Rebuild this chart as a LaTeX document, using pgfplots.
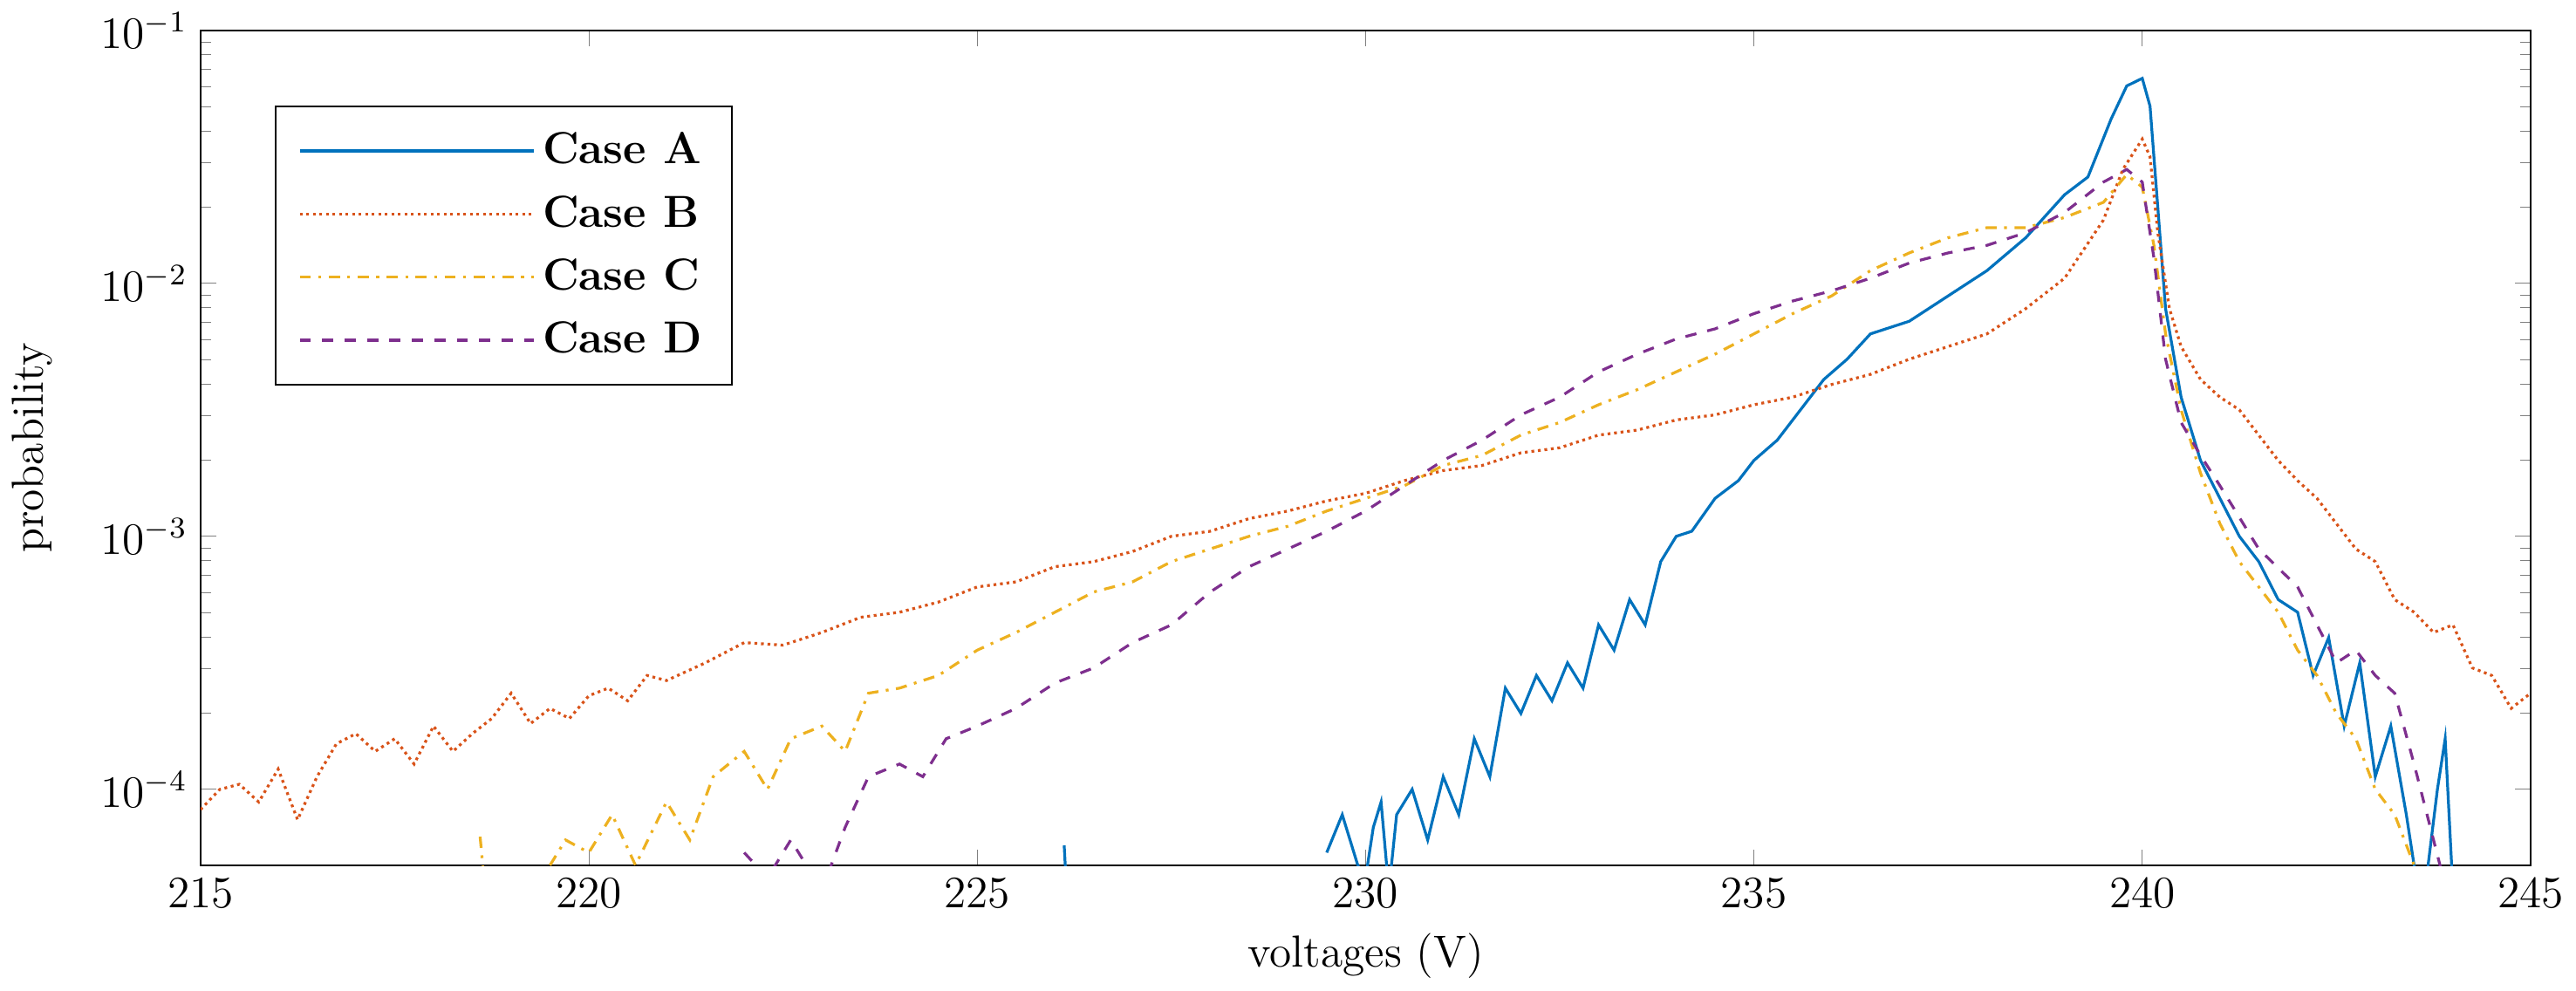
\documentclass[border=0pt]{standalone}
\usepackage{pgfplots}
\pgfplotsset{compat=1.18}
\definecolor{mA}{RGB}{0,114,189}
\definecolor{mB}{RGB}{217,83,25}
\definecolor{mC}{RGB}{237,177,32}
\definecolor{mD}{RGB}{126,47,142}
\begin{document}
\begin{tikzpicture}
\begin{axis}[
 scale only axis, width=21.9cm, height=7.85cm,
 xmin=215, xmax=245, ymin=5e-5, ymax=0.1, ymode=log,
 xtick={215,220,...,245}, ytick={1e-4,1e-3,1e-2,1e-1},
 tick align=inside, font=\large,
 xlabel={voltages (V)}, ylabel={probability},
 ylabel style={yshift=6pt},
 every axis plot/.append style={line width=0.75pt},
 legend style={at={(0.032,0.91)},anchor=north west,font=\large\bfseries,draw=black,inner xsep=6pt,inner ysep=5pt, row sep=3pt},
 legend image code/.code={\draw[#1] (0cm,0cm)--(2.2cm,0cm);},
 legend cell align=left,
]
\addplot[mA,solid] table[x=x,y expr={10^(\thisrow{l})}] {
x l
229.5 -4.25
229.7 -4.1
229.9 -4.3
230.0 -4.35
230.1 -4.15
230.2 -4.05
230.3 -4.4
230.4 -4.1
230.6 -4.0
230.8 -4.2
231 -3.95
231.2 -4.1
231.4 -3.8
231.6 -3.95
231.8 -3.6
232 -3.7
232.2 -3.55
232.4 -3.65
232.6 -3.5
232.8 -3.6
233 -3.35
233.2 -3.45
233.4 -3.25
233.6 -3.35
233.8 -3.1
234 -3.0
234.2 -2.98
234.5 -2.85
234.8 -2.78
235 -2.7
235.3 -2.62
235.6 -2.5
235.9 -2.38
236.2 -2.3
236.5 -2.2
237 -2.15
237.5 -2.05
238 -1.95
238.5 -1.82
239 -1.65
239.3 -1.58
239.6 -1.35
239.8 -1.22
240 -1.19
240.1 -1.3
240.2 -1.7
240.3 -2.1
240.5 -2.45
240.75 -2.7
241 -2.85
241.25 -3.0
241.5 -3.1
241.75 -3.25
242 -3.3
242.2 -3.55
242.4 -3.4
242.6 -3.75
242.8 -3.5
243 -3.95
243.2 -3.75
243.4 -4.1
243.6 -4.5
243.8 -4.0
243.9 -3.8
244 -4.4
244.1 -4.6
};
\addlegendentry{Case A}
\addplot[mB,densely dotted] table[x=x,y expr={10^(\thisrow{l})}] {
x l
215 -4.08
215.25 -4.0
215.5 -3.98
215.75 -4.05
216 -3.92
216.25 -4.12
216.5 -3.95
216.75 -3.82
217 -3.78
217.25 -3.85
217.5 -3.8
217.75 -3.9
218 -3.75
218.25 -3.85
218.5 -3.78
218.75 -3.72
219 -3.62
219.25 -3.74
219.5 -3.68
219.75 -3.72
220 -3.63
220.25 -3.6
220.5 -3.65
220.75 -3.55
221 -3.57
221.5 -3.5
222 -3.42
222.5 -3.43
223 -3.38
223.5 -3.32
224 -3.3
224.5 -3.26
225 -3.2
225.5 -3.18
226 -3.12
226.5 -3.1
227 -3.06
227.5 -3.0
228 -2.98
228.5 -2.93
229 -2.9
229.5 -2.86
230 -2.83
230.5 -2.78
231 -2.74
231.5 -2.72
232 -2.67
232.5 -2.65
233 -2.6
233.5 -2.58
234 -2.54
234.5 -2.52
235 -2.48
235.5 -2.45
236 -2.4
236.5 -2.36
237 -2.3
237.5 -2.25
238 -2.2
238.5 -2.1
239 -1.98
239.5 -1.75
239.75 -1.55
240 -1.43
240.1 -1.5
240.2 -1.8
240.35 -2.1
240.5 -2.25
240.75 -2.38
241 -2.45
241.25 -2.5
241.5 -2.6
241.75 -2.7
242 -2.78
242.25 -2.85
242.5 -2.95
242.75 -3.05
243 -3.1
243.25 -3.25
243.5 -3.3
243.75 -3.38
244 -3.35
244.25 -3.52
244.5 -3.55
244.75 -3.68
245 -3.62
};
\addlegendentry{Case B}
\addplot[mC,dash dot] table[x=x,y expr={10^(\thisrow{l})}] {
x l
219.5 -4.3
219.7 -4.2
220 -4.25
220.3 -4.1
220.6 -4.3
221 -4.05
221.3 -4.2
221.6 -3.95
222 -3.85
222.3 -4.0
222.6 -3.8
223 -3.75
223.3 -3.85
223.6 -3.62
224 -3.6
224.5 -3.55
225 -3.45
225.5 -3.38
226 -3.3
226.5 -3.22
227 -3.18
227.5 -3.1
228 -3.05
228.5 -3.0
229 -2.96
229.5 -2.9
230 -2.85
230.5 -2.8
231 -2.72
231.5 -2.68
232 -2.6
232.5 -2.55
233 -2.48
233.5 -2.42
234 -2.35
234.5 -2.28
235 -2.2
235.5 -2.12
236 -2.05
236.5 -1.95
237 -1.88
237.5 -1.82
238 -1.78
238.5 -1.78
239 -1.74
239.5 -1.68
239.8 -1.57
240 -1.62
240.15 -1.85
240.3 -2.2
240.5 -2.5
240.75 -2.75
241 -2.95
241.25 -3.1
241.5 -3.2
241.75 -3.3
242 -3.45
242.25 -3.55
242.5 -3.7
242.75 -3.8
243 -4.0
243.25 -4.1
243.5 -4.3
243.7 -4.5
};
\addlegendentry{Case C}
\addplot[mD,dashed] table[x=x,y expr={10^(\thisrow{l})}] {
x l
222 -4.25
222.3 -4.35
222.6 -4.2
223 -4.4
223.3 -4.15
223.6 -3.95
224 -3.9
224.3 -3.95
224.6 -3.8
225 -3.75
225.5 -3.68
226 -3.58
226.5 -3.52
227 -3.42
227.5 -3.35
228 -3.22
228.5 -3.12
229 -3.05
229.5 -2.98
230 -2.9
230.5 -2.8
231 -2.7
231.5 -2.62
232 -2.52
232.5 -2.45
233 -2.35
233.5 -2.28
234 -2.22
234.5 -2.18
235 -2.12
235.5 -2.07
236 -2.03
236.5 -1.98
237 -1.92
237.5 -1.88
238 -1.85
238.5 -1.8
239 -1.72
239.5 -1.6
239.8 -1.55
240 -1.6
240.15 -1.9
240.3 -2.3
240.5 -2.55
240.75 -2.68
241 -2.8
241.5 -3.05
242 -3.2
242.25 -3.35
242.5 -3.5
242.75 -3.45
243 -3.55
243.25 -3.62
243.5 -3.9
243.75 -4.2
244 -4.5
};
\addlegendentry{Case D}
\addplot[mA,solid,forget plot] coordinates {(226.12,6e-5) (226.15,4e-5)};
\addplot[mC,dash dot,forget plot] coordinates {(218.6,6.5e-5) (218.7,3e-5)};
\end{axis}
\end{tikzpicture}
\end{document}
